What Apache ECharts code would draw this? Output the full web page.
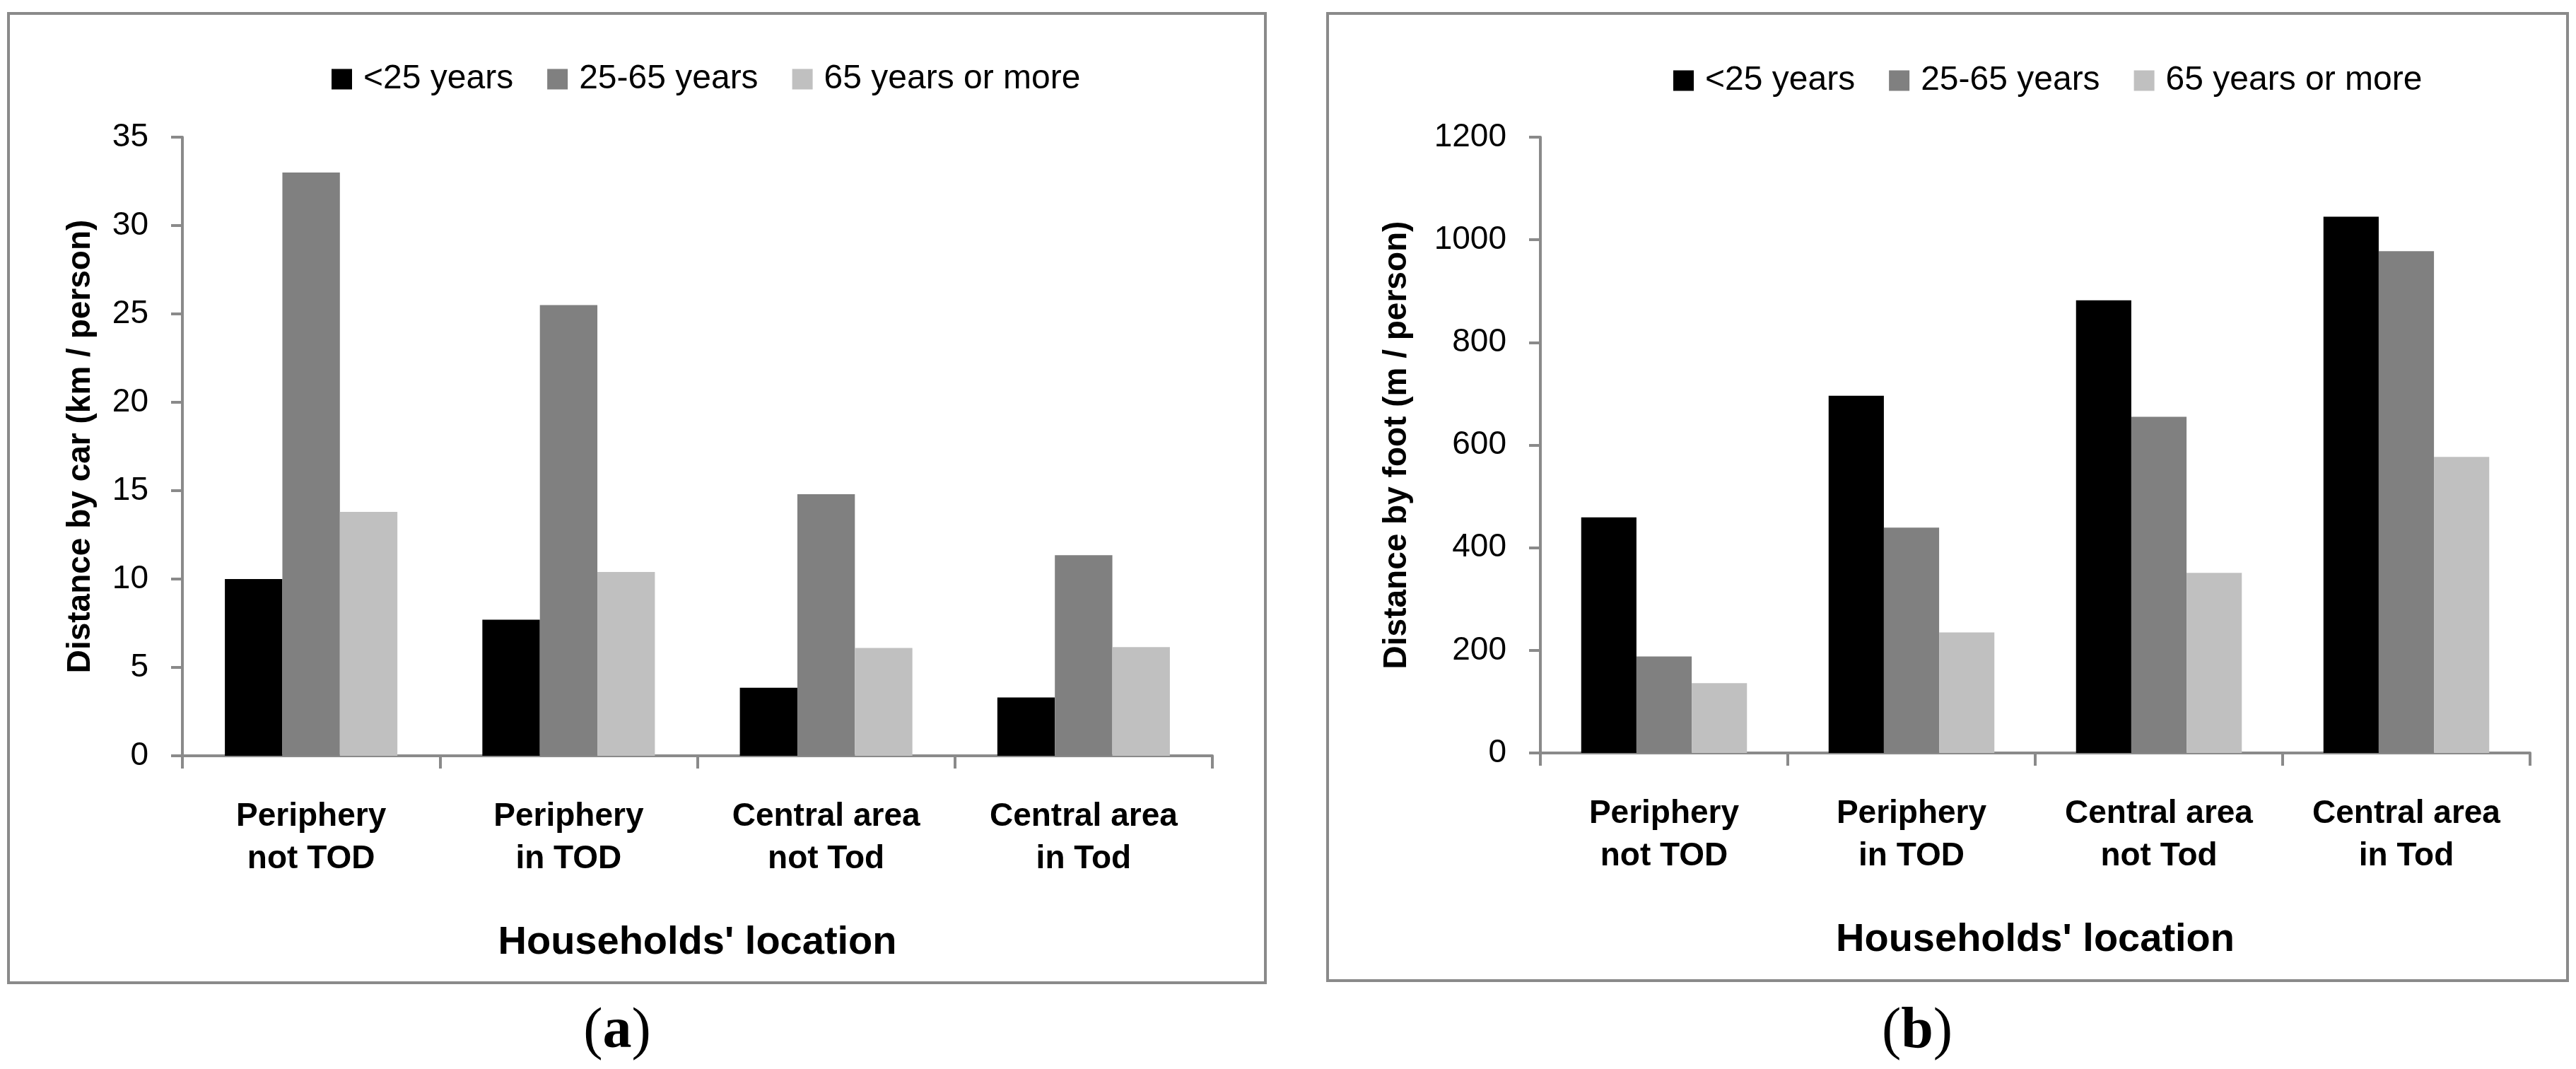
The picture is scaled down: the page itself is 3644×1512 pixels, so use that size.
<!DOCTYPE html>
<html>
<head>
<meta charset="utf-8">
<script src="https://cdn.jsdelivr.net/npm/echarts@6/dist/echarts.min.js"></script>
<style>
html,body{margin:0;padding:0;background:#fff;}
#chart{width:3644px;height:1512px;}
</style>
</head>
<body>
<div id="chart"></div>
<script>
const categories = ['Periphery\nnot TOD', 'Periphery\nin TOD', 'Central area\nnot Tod', 'Central area\nin Tod'];
const seriesNames = ['<25 years', '25-65 years', '65 years or more'];
const carUnder25 = [10.0, 7.7, 3.85, 3.3];
const car25to65 = [33.0, 25.5, 14.8, 11.35];
const car65plus = [13.8, 10.4, 6.1, 6.15];
const footUnder25 = [459, 696, 882, 1045];
const foot25to65 = [188, 439, 655, 978];
const foot65plus = [136, 235, 351, 577];
const carTicks = {min: 0, max: 35, interval: 5};
const footTicks = {min: 0, max: 1200, interval: 200};
const colors = ['#000000', '#808080', '#c0c0c0'];

const SANS = "'Liberation Sans', Arial, sans-serif";
const AX = '#8a8a8a';

function xAxis(gridIndex) {
  return {
    type: 'category', gridIndex: gridIndex, data: categories,
    boundaryGap: true,
    axisLine: {show: true, lineStyle: {color: AX, width: 4}},
    axisTick: {show: true, length: 18, lineStyle: {color: AX, width: 4}},
    axisLabel: {fontFamily: SANS, fontWeight: 'bold', fontSize: 46, color: '#000', lineHeight: 60, margin: 56, interval: 0},
    name: "Households' location", nameLocation: 'middle', nameGap: 237,
    nameTextStyle: {fontFamily: SANS, fontWeight: 'bold', fontSize: 56, color: '#000'},
    splitLine: {show: false}
  };
}
function yAxis(gridIndex, ticks, name, gap) {
  return {
    type: 'value', gridIndex: gridIndex, min: ticks.min, max: ticks.max, interval: ticks.interval,
    axisLine: {show: true, lineStyle: {color: AX, width: 4}},
    axisTick: {show: true, length: 16, lineStyle: {color: AX, width: 4}},
    axisLabel: {fontFamily: SANS, fontSize: 46, color: '#000', margin: 48, formatter: function (v) { return String(v); }},
    splitLine: {show: false},
    name: name, nameLocation: 'middle', nameGap: gap,
    nameTextStyle: {fontFamily: SANS, fontWeight: 'bold', fontSize: 46, color: '#000'}
  };
}
function legend(left, top) {
  return {
    left: left, top: top, orient: 'horizontal', padding: 0,
    itemWidth: 29, itemHeight: 29, itemGap: 48, icon: 'rect',
    data: seriesNames,
    textStyle: {fontFamily: SANS, fontSize: 48, color: '#000', padding: [0, 0, 0, 11]}
  };
}
function bars(name, data, idx, axisIndex) {
  return {
    name: name, type: 'bar', xAxisIndex: axisIndex, yAxisIndex: axisIndex,
    data: data, barGap: '0%', barCategoryGap: '33%',
    itemStyle: {color: colors[idx]}, animation: false
  };
}

const chart = echarts.init(document.getElementById('chart'), null, {renderer: 'canvas'});
chart.setOption({
  backgroundColor: '#ffffff',
  animation: false,
  grid: [
    {left: 258, top: 194, width: 1457, height: 875},
    {left: 2179, top: 194, width: 1400, height: 871}
  ],
  legend: [legend(469, 88), legend(2367, 90)],
  xAxis: [xAxis(0), xAxis(1)],
  yAxis: [
    yAxis(0, carTicks, 'Distance by car (km / person)', 121),
    yAxis(1, footTicks, 'Distance by foot (m / person)', 180)
  ],
  series: [
    bars(seriesNames[0], carUnder25, 0, 0),
    bars(seriesNames[1], car25to65, 1, 0),
    bars(seriesNames[2], car65plus, 2, 0),
    bars(seriesNames[0], footUnder25, 0, 1),
    bars(seriesNames[1], foot25to65, 1, 1),
    bars(seriesNames[2], foot65plus, 2, 1)
  ],
  graphic: [
    {type: 'rect', shape: {x: 12, y: 19, width: 1778, height: 1371}, style: {fill: 'none', stroke: AX, lineWidth: 4}, silent: true},
    {type: 'rect', shape: {x: 1878, y: 19, width: 1754, height: 1368}, style: {fill: 'none', stroke: AX, lineWidth: 4}, silent: true},
    {type: 'text', x: 873, y: 1460, style: {
      text: '{p|(}{b|a}{p|)}', align: 'center', verticalAlign: 'middle',
      rich: {
        p: {fontFamily: "'Liberation Serif', 'Times New Roman', serif", fontSize: 82, fill: '#000'},
        b: {fontFamily: "'Liberation Serif', 'Times New Roman', serif", fontSize: 82, fontWeight: 'bold', fill: '#000'}
      }}},
    {type: 'text', x: 2712, y: 1460, style: {
      text: '{p|(}{b|b}{p|)}', align: 'center', verticalAlign: 'middle',
      rich: {
        p: {fontFamily: "'Liberation Serif', 'Times New Roman', serif", fontSize: 82, fill: '#000'},
        b: {fontFamily: "'Liberation Serif', 'Times New Roman', serif", fontSize: 82, fontWeight: 'bold', fill: '#000'}
      }}}
  ]
});
</script>
</body>
</html>
